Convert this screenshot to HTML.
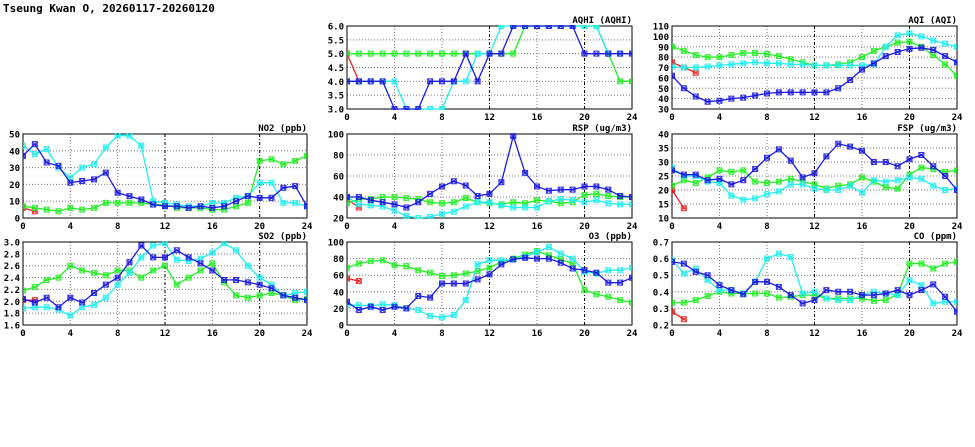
<!DOCTYPE html>
<html><head><meta charset="utf-8"><style>
body{margin:0;background:#fff;}
svg{display:block;font-family:"DejaVu Sans Mono","Liberation Mono",monospace;font-weight:bold;}
</style></head><body>
<svg id="chart" width="975" height="447" viewBox="0 0 975 447" xmlns="http://www.w3.org/2000/svg">
<rect width="975" height="447" fill="#fff"/>
<text x="3" y="12" font-size="11" fill="#000">Tseung Kwan O, 20260117-20260120</text>
</svg>
<script>
const hours = [0,1,2,3,4,5,6,7,8,9,10,11,12,13,14,15,16,17,18,19,20,21,22,23,24];
const xTicks = [0,4,8,12,16,20,24];

const aqhiRed = [5,4];
const aqhiGreen = [5,5,5,5,5,5,5,5,5,5,5,5,5,5,5,6,6,6,6,6,6,6,5,4,4];
const aqhiCyan = [4,4,4,4,4,3,3,3,3,4,4,5,5,6,6,6,6,6,6,6,6,6,5,5,5];
const aqhiBlue = [4,4,4,4,3,3,3,4,4,4,5,4,5,5,6,6,6,6,6,6,5,5,5,5,5];
const aqhiTicks = [3.0,3.5,4.0,4.5,5.0,5.5,6.0];

const aqiRed = [75,70,65];
const aqiGreen = [90,86,82,80,80,82,84,84,83,81,78,75,72,72,73,75,80,86,90,94,95,90,82,73,62];
const aqiCyan = [71,70,70,71,72,73,74,75,74,74,73,73,72,72,72,72,72,73,90,101,103,100,96,93,90];
const aqiBlue = [62,50,42,37,38,40,41,43,45,46,46,46,46,46,50,58,68,74,81,85,88,89,87,81,75];
const aqiTicks = [30,40,50,60,70,80,90,100,110];

const no2Red = [6,4];
const no2Green = [7,6,5,4,6,5,6,9,9,9,9,8,8,6,6,6,5,5,7,9,34,35,32,34,37];
const no2Cyan = [43,38,41,30,24,30,32,42,49,49,43,10,9,8,7,7,9,9,12,13,21,21,9,9,7];
const no2Blue = [37,44,33,31,21,22,23,27,15,13,11,8,7,7,6,7,6,7,10,13,12,12,18,19,7];
const no2Ticks = [0,10,20,30,40,50];

const rspRed = [38,30];
const rspGreen = [34,38,38,40,40,39,38,35,34,35,39,35,34,33,35,34,37,36,34,35,42,43,41,40,40];
const rspCyan = [40,33,32,31,27,22,20,21,24,26,31,35,35,32,30,30,30,36,38,37,35,37,34,33,33];
const rspBlue = [40,40,37,35,33,30,35,43,50,55,51,41,43,54,98,63,50,46,47,47,50,50,47,41,40];
const rspTicks = [20,40,60,80,100];

const fspRed = [20,13.5];
const fspGreen = [21.5,23.5,22.5,24.5,27,26.5,27,23,22.5,23,24,23,22,20.5,21.5,22,24.5,23,21,20.5,25.5,28,27.5,26.5,27];
const fspCyan = [28,25,25,23,22.5,18,16.5,17,18.5,19.5,22,22,20.5,20,20,21.5,19,23.5,23,23.5,24.5,24,21.5,20,20.5];
const fspBlue = [27,25.5,25.5,23.5,24,22,23.5,27.5,31.5,34.5,30.5,24.5,26,32,36.5,35.5,34,30,30,28.5,31,32.5,28.5,25,20];
const fspTicks = [10,15,20,25,30,35,40];

const so2Red = [2.02,2.02];
const so2Green = [2.18,2.24,2.36,2.40,2.60,2.52,2.48,2.44,2.52,2.52,2.40,2.52,2.60,2.28,2.40,2.52,2.64,2.32,2.10,2.06,2.10,2.14,2.10,2.02,2.04];
const so2Cyan = [1.88,1.90,1.90,1.86,1.76,1.90,1.94,2.06,2.28,2.48,2.74,2.94,2.98,2.70,2.68,2.72,2.82,2.98,2.86,2.60,2.40,2.28,2.10,2.14,2.16];
const so2Blue = [2.04,1.98,2.06,1.90,2.06,1.98,2.14,2.28,2.40,2.66,2.94,2.74,2.74,2.86,2.74,2.64,2.52,2.36,2.36,2.32,2.28,2.22,2.10,2.06,2.02];
const so2Ticks = [1.6,1.8,2.0,2.2,2.4,2.6,2.8,3.0];

const o3Red = [56,53];
const o3Green = [69,74,77,78,72,71,66,63,59,60,62,65,69,76,80,85,89,84,79,74,42,37,34,30,27];
const o3Cyan = [24,24,23,25,24,20,18,11,9,12,30,73,78,78,79,82,88,94,86,80,64,62,66,66,69];
const o3Blue = [28,18,22,18,22,20,35,33,50,50,50,55,61,73,79,81,80,80,75,68,66,63,51,51,57];
const o3Ticks = [0,20,40,60,80,100];

const coRed = [0.28,0.235];
const coGreen = [0.335,0.335,0.35,0.375,0.40,0.39,0.39,0.39,0.39,0.365,0.37,0.38,0.38,0.36,0.36,0.36,0.36,0.345,0.35,0.385,0.57,0.57,0.54,0.57,0.58];
const coCyan = [0.59,0.51,0.54,0.47,0.41,0.41,0.39,0.46,0.60,0.63,0.61,0.39,0.40,0.36,0.35,0.35,0.38,0.40,0.39,0.38,0.47,0.44,0.33,0.34,0.34];
const coBlue = [0.58,0.57,0.52,0.50,0.44,0.41,0.385,0.46,0.46,0.43,0.38,0.33,0.35,0.41,0.40,0.40,0.38,0.38,0.39,0.41,0.38,0.41,0.445,0.37,0.28];
const coTicks = [0.2,0.3,0.4,0.5,0.6,0.7];

const svg = document.getElementById('chart');
const NS = 'http://www.w3.org/2000/svg';
function mk(tag, attrs, parent){const e=document.createElementNS(NS,tag);for(const k in attrs)e.setAttribute(k,attrs[k]);(parent||svg).appendChild(e);return e;}

const COLS=[[23,307],[347,632],[672,957]];
const ROWS=[[26,109],[134,218],[242,325]];
const COLORS={red:'#ee2020',green:'#22ee22',cyan:'#22eeee',blue:'#1a1ae0'};

function panel(key,title,col,row,ticks,dec,series){
  const [x0,x1]=COLS[col],[y0,y1]=ROWS[row];
  const ymin=ticks[0],ymax=ticks[ticks.length-1];
  const xs=h=>x0+(h/24)*(x1-x0);
  const ys=v=>y1-(v-ymin)/(ymax-ymin)*(y1-y0);
  const g=mk('g',{});
  
  
  const cid='clip-'+key;
  const cp=mk('clipPath',{id:cid},g);mk('rect',{x:x0,y:y0-1,width:x1-x0,height:y1-y0+2},cp);
  ticks.forEach(t=>{
    const y=ys(t);
    if(t!==ymin&&t!==ymax){const l=mk('line',{x1:x0,x2:x1,y1:y,y2:y,stroke:'#777','stroke-width':1,'stroke-dasharray':'1,2'},g);
      
      }
    const tx=mk('text',{x:x0-3,y:y+3.5,'font-size':9,'text-anchor':'end',fill:'#000'},g);
    
    
    tx.textContent=t.toFixed(dec);
  });
  xTicks.forEach(t=>{
    const x=xs(t);
    if(t!==0&&t!==24){const dark=(t===12||t===20);
      const l=mk('line',{x1:x,x2:x,y1:y0,y2:y1,stroke:dark?'#000':'#777','stroke-width':1,'stroke-dasharray':dark?'3,2,1,2':'1,2'},g);
      
      }
    const tx=mk('text',{x:x,y:y1+11,'font-size':9,'text-anchor':'middle',fill:'#000'},g);
    
    
    tx.textContent=t;
  });
  const fr=mk('rect',{x:x0,y:y0,width:x1-x0,height:y1-y0,fill:'none',stroke:'#000','stroke-width':1},g);
  
  
  const ti=mk('text',{x:x1,y:y0-3,'font-size':9,'text-anchor':'end',fill:'#000'},g);
  
  
  ti.textContent=title;
  const sg=mk('g',{'clip-path':'url(#'+cid+')'},g);
  series.forEach(([name,vals])=>{
    const c=COLORS[name];
    const pts=vals.map((v,i)=>xs(hours[i]).toFixed(1)+','+ys(v).toFixed(1)).join(' ');
    const pl=mk('polyline',{points:pts,fill:'none',stroke:c,'stroke-width':1.3},sg);
    
    
    vals.forEach((v,i)=>{
      const x=xs(hours[i]),y=ys(v);
      const m=mk('path',{d:`M${x-2.5},${y-2.5}L${x+2.5},${y+2.5}M${x-2.5},${y+2.5}L${x+2.5},${y-2.5}M${x-3},${y}L${x+3},${y}M${x-2.5},${y-2.5}h5v5h-5z`,stroke:c,'stroke-width':1,fill:'none','stroke-opacity':0.9},sg);
      
      
    });
  });
}
panel('aqhi','AQHI (AQHI)',1,0,aqhiTicks,1,[['red',aqhiRed],['green',aqhiGreen],['cyan',aqhiCyan],['blue',aqhiBlue]]);
panel('aqi','AQI (AQI)',2,0,aqiTicks,0,[['red',aqiRed],['green',aqiGreen],['cyan',aqiCyan],['blue',aqiBlue]]);
panel('no2','NO2 (ppb)',0,1,no2Ticks,0,[['red',no2Red],['green',no2Green],['cyan',no2Cyan],['blue',no2Blue]]);
panel('rsp','RSP (ug/m3)',1,1,rspTicks,0,[['red',rspRed],['green',rspGreen],['cyan',rspCyan],['blue',rspBlue]]);
panel('fsp','FSP (ug/m3)',2,1,fspTicks,0,[['red',fspRed],['green',fspGreen],['cyan',fspCyan],['blue',fspBlue]]);
panel('so2','SO2 (ppb)',0,2,so2Ticks,1,[['red',so2Red],['green',so2Green],['cyan',so2Cyan],['blue',so2Blue]]);
panel('o3','O3 (ppb)',1,2,o3Ticks,0,[['red',o3Red],['green',o3Green],['cyan',o3Cyan],['blue',o3Blue]]);
panel('co','CO (ppm)',2,2,coTicks,1,[['red',coRed],['green',coGreen],['cyan',coCyan],['blue',coBlue]]);
</script>
</body></html>
